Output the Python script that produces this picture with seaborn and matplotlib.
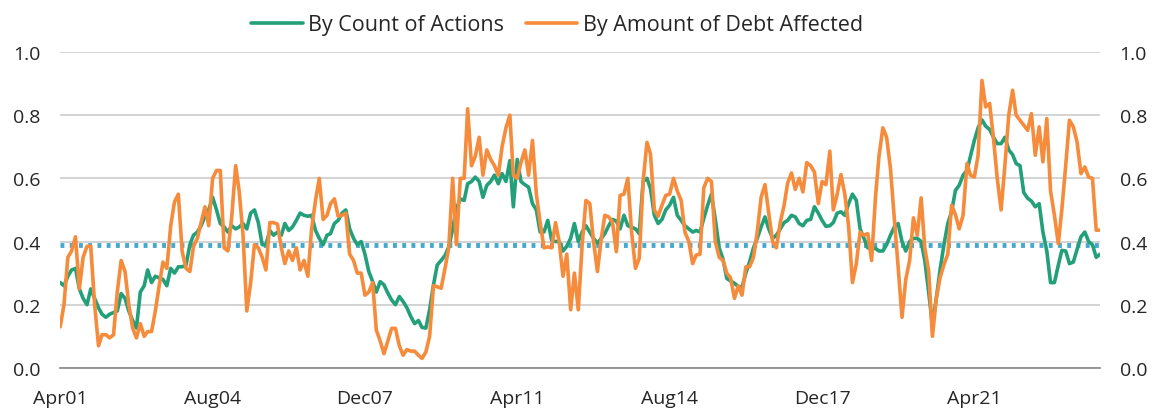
import pandas as pd
import seaborn as sns
import matplotlib.pyplot as plt

# monthly values, Apr 2001 .. Jan 2024
by_count = [
    0.27, 0.26, 0.29, 0.31, 0.315, 0.25, 0.22, 0.20, 0.25, 0.22,
    0.19, 0.17, 0.16, 0.17, 0.175, 0.18, 0.235, 0.22, 0.18, 0.15,
    0.126, 0.24, 0.26, 0.31, 0.27, 0.29, 0.285, 0.28, 0.26, 0.315,
    0.30, 0.32, 0.32, 0.325, 0.39, 0.42, 0.43, 0.45, 0.48, 0.50,
    0.54, 0.50, 0.457, 0.446, 0.43, 0.45, 0.44, 0.446, 0.457, 0.44,
    0.49, 0.50, 0.46, 0.39, 0.39, 0.435, 0.42, 0.43, 0.42, 0.457,
    0.435, 0.446, 0.467, 0.49, 0.483, 0.48, 0.483, 0.435, 0.41, 0.39,
    0.42, 0.425, 0.457, 0.467, 0.49, 0.50, 0.44, 0.41, 0.39, 0.40,
    0.36, 0.305, 0.273, 0.24, 0.273, 0.263, 0.237, 0.215, 0.20, 0.226,
    0.21, 0.19, 0.163, 0.14, 0.15, 0.128, 0.126, 0.184, 0.263, 0.326,
    0.34, 0.356, 0.383, 0.44, 0.504, 0.535, 0.53, 0.583, 0.59, 0.604,
    0.59, 0.54, 0.578, 0.59, 0.61, 0.583, 0.615, 0.59, 0.656, 0.51,
    0.66, 0.59, 0.58, 0.572, 0.52, 0.50, 0.43, 0.43, 0.467, 0.404,
    0.40, 0.40, 0.37, 0.385, 0.41, 0.457, 0.40, 0.43, 0.45, 0.43,
    0.41, 0.395, 0.41, 0.425, 0.45, 0.47, 0.465, 0.44, 0.483, 0.45,
    0.445, 0.44, 0.425, 0.59, 0.60, 0.567, 0.483, 0.457, 0.47, 0.50,
    0.515, 0.54, 0.483, 0.467, 0.45, 0.44, 0.43, 0.435, 0.43, 0.473,
    0.515, 0.55, 0.47, 0.38, 0.345, 0.283, 0.275, 0.268, 0.257, 0.255,
    0.30, 0.336, 0.38, 0.41, 0.446, 0.478, 0.44, 0.41, 0.42, 0.44,
    0.46, 0.467, 0.483, 0.478, 0.457, 0.45, 0.467, 0.47, 0.51, 0.49,
    0.467, 0.448, 0.45, 0.46, 0.49, 0.494, 0.483, 0.52, 0.55, 0.53,
    0.44, 0.41, 0.38, 0.378, 0.378, 0.37, 0.37, 0.39, 0.42, 0.446,
    0.457, 0.40, 0.37, 0.40, 0.41, 0.41, 0.40, 0.34, 0.24, 0.135,
    0.22, 0.31, 0.39, 0.457, 0.494, 0.562, 0.578, 0.61, 0.625, 0.67,
    0.72, 0.76, 0.785, 0.765, 0.755, 0.73, 0.71, 0.71, 0.73, 0.69,
    0.675, 0.647, 0.64, 0.555, 0.537, 0.528, 0.51, 0.52, 0.43, 0.37,
    0.27, 0.27, 0.325, 0.372, 0.37, 0.33, 0.335, 0.375, 0.415, 0.43,
    0.40, 0.39, 0.35, 0.36,
]

by_debt = [
    0.13, 0.20, 0.35, 0.37, 0.415, 0.25, 0.35, 0.385, 0.385, 0.20,
    0.07, 0.105, 0.105, 0.095, 0.105, 0.24, 0.34, 0.305, 0.20, 0.126,
    0.095, 0.14, 0.10, 0.115, 0.115, 0.18, 0.26, 0.335, 0.315, 0.45,
    0.525, 0.55, 0.37, 0.315, 0.305, 0.385, 0.41, 0.46, 0.51, 0.45,
    0.60, 0.625, 0.625, 0.38, 0.37, 0.48, 0.64, 0.56, 0.42, 0.18,
    0.27, 0.39, 0.38, 0.35, 0.31, 0.46, 0.46, 0.455, 0.38, 0.33,
    0.37, 0.34, 0.38, 0.31, 0.34, 0.29, 0.44, 0.53, 0.60, 0.47,
    0.483, 0.52, 0.535, 0.48, 0.483, 0.49, 0.36, 0.34, 0.30, 0.30,
    0.23, 0.24, 0.27, 0.12, 0.085, 0.045, 0.085, 0.125, 0.125, 0.07,
    0.04, 0.058, 0.053, 0.053, 0.04, 0.03, 0.05, 0.10, 0.26, 0.257,
    0.252, 0.315, 0.38, 0.60, 0.39, 0.60, 0.60, 0.82, 0.64, 0.67,
    0.73, 0.61, 0.69, 0.66, 0.64, 0.61, 0.70, 0.76, 0.80, 0.61,
    0.60, 0.65, 0.69, 0.61, 0.72, 0.55, 0.46, 0.38, 0.383, 0.38,
    0.46, 0.40, 0.29, 0.36, 0.184, 0.30, 0.184, 0.39, 0.53, 0.52,
    0.40, 0.305, 0.41, 0.483, 0.478, 0.462, 0.368, 0.546, 0.55, 0.60,
    0.43, 0.315, 0.347, 0.59, 0.714, 0.677, 0.50, 0.48, 0.515, 0.546,
    0.55, 0.60, 0.56, 0.53, 0.43, 0.40, 0.33, 0.357, 0.36, 0.57,
    0.60, 0.59, 0.40, 0.35, 0.34, 0.30, 0.285, 0.22, 0.26, 0.23,
    0.32, 0.32, 0.35, 0.43, 0.54, 0.58, 0.49, 0.40, 0.38, 0.46,
    0.515, 0.585, 0.617, 0.565, 0.60, 0.557, 0.65, 0.64, 0.62, 0.52,
    0.59, 0.58, 0.686, 0.50, 0.55, 0.612, 0.55, 0.45, 0.27, 0.33,
    0.43, 0.42, 0.425, 0.34, 0.54, 0.67, 0.76, 0.73, 0.63, 0.475,
    0.32, 0.16, 0.28, 0.34, 0.475, 0.42, 0.538, 0.38, 0.306, 0.10,
    0.22, 0.285, 0.327, 0.36, 0.515, 0.485, 0.44, 0.483, 0.647, 0.61,
    0.604, 0.673, 0.91, 0.826, 0.837, 0.726, 0.60, 0.50, 0.64, 0.80,
    0.879, 0.80, 0.784, 0.768, 0.752, 0.805, 0.673, 0.763, 0.652, 0.789,
    0.56, 0.483, 0.393, 0.50, 0.64, 0.784, 0.763, 0.715, 0.615, 0.636,
    0.604, 0.60, 0.436, 0.436,
]

average_level = 0.39
tick_labels = ['Apr01', 'Aug04', 'Dec07', 'Apr11', 'Aug14', 'Dec17', 'Apr21']

months = pd.date_range('2001-04-01', periods=len(by_count), freq='MS')
df = pd.DataFrame({
    'date': list(months) * 2,
    'value': by_count + by_debt,
    'series': ['By Count of Actions'] * len(by_count) + ['By Amount of Debt Affected'] * len(by_debt),
})

sns.set_style('white')
plt.rcParams['font.family'] = ['Open Sans', 'DejaVu Sans']

fig, ax = plt.subplots(figsize=(11.58, 4.14), dpi=100)
fig.subplots_adjust(left=0.052, right=0.95, bottom=0.109, top=0.872)

ax.axhline(average_level, color='#45a9cc', lw=3.5, ls=(0, (0.8, 1.1)), zorder=1)
sns.lineplot(data=df, x='date', y='value', hue='series', ax=ax, lw=2.6,
             palette={'By Count of Actions': '#23a07a', 'By Amount of Debt Affected': '#f58b3b'},
             zorder=3)

ax.set_ylim(0, 1.0)
ax.set_xlim(months[0], months[-1])
ax.set_yticks([0, 0.2, 0.4, 0.6, 0.8, 1.0])
ax.set_yticklabels(['0.0', '0.2', '0.4', '0.6', '0.8', '1.0'])
ax.yaxis.grid(True, color='#cccccc', lw=1.2)
ax.set_axisbelow(True)
ax.set_xticks(months[::40])
ax.set_xticklabels(tick_labels)
ax.set_xlabel('')
ax.set_ylabel('')

for side in ['top', 'left', 'right']:
    ax.spines[side].set_visible(False)
ax.spines['bottom'].set_color('#888888')
ax.spines['bottom'].set_linewidth(1.2)
ax.tick_params(axis='x', direction='out', length=7, color='#888888', width=1, labelsize=14, pad=8)
ax.tick_params(axis='y', length=0, labelsize=14, labelright=True, pad=14)

ax.legend(loc='upper center', bbox_to_anchor=(0.481, 1.01), bbox_transform=fig.transFigure,
          ncol=2, frameon=False, fontsize=15.5, handlelength=2.4, handletextpad=0.25,
          columnspacing=1.0)

plt.savefig('out.png', dpi=100)
